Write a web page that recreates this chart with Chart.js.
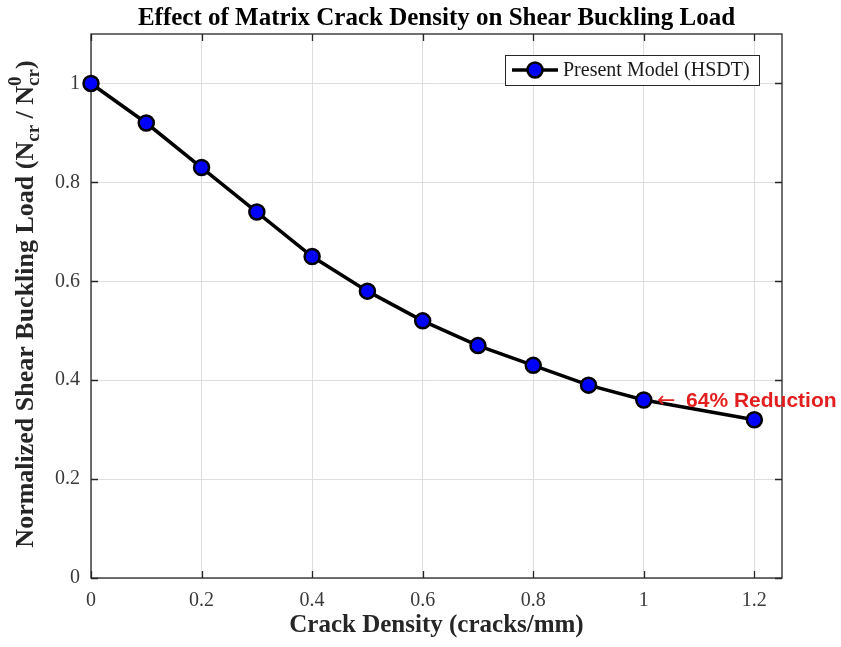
<!DOCTYPE html>
<html>
<head>
<meta charset="utf-8">
<script src="https://cdn.jsdelivr.net/npm/chart.js@4"></script>
<style>
html,body{margin:0;padding:0;background:#fff;}
#wrap{width:841px;height:647px;}
</style>
</head>
<body>
<div id="wrap"><canvas id="c" width="841" height="647"></canvas></div>
<script>
const crackDensity = [0, 0.1, 0.2, 0.3, 0.4, 0.5, 0.6, 0.7, 0.8, 0.9, 1.0, 1.2];
const normalizedLoad = [1.00, 0.92, 0.83, 0.74, 0.65, 0.58, 0.52, 0.47, 0.43, 0.39, 0.36, 0.32];
const xTicks = [0, 0.2, 0.4, 0.6, 0.8, 1, 1.2];
const xTickLabels = ['0', '0.2', '0.4', '0.6', '0.8', '1', '1.2'];
const yTicks = [0, 0.2, 0.4, 0.6, 0.8, 1];
const yTickLabels = ['0', '0.2', '0.4', '0.6', '0.8', '1'];
const seriesName = 'Present Model (HSDT)';
const chartTitle = 'Effect of Matrix Crack Density on Shear Buckling Load';
const xTitle = 'Crack Density (cracks/mm)';
const annotArrow = '\u2190';
const annotText = '64% Reduction';
const annotX = 1.024;
const annotY = 0.36;

const SERIF = '"Liberation Serif", "Times New Roman", serif';
const AXC = '#262626';

const decorPlugin = {
  id: 'decor',
  beforeDatasetsDraw(chart) {
    const ctx = chart.ctx, a = chart.chartArea;
    const xs = chart.scales.x, ys = chart.scales.y;
    ctx.save();
    ctx.strokeStyle = AXC;
    ctx.lineWidth = 1.3;
    ctx.strokeRect(a.left, a.top, a.right - a.left, a.bottom - a.top);
    const tl = 7;
    ctx.beginPath();
    xTicks.forEach(v => {
      const px = Math.round(xs.getPixelForValue(v)) + 0.5;
      ctx.moveTo(px, a.bottom); ctx.lineTo(px, a.bottom - tl);
      ctx.moveTo(px, a.top); ctx.lineTo(px, a.top + tl);
    });
    yTicks.forEach(v => {
      const py = Math.round(ys.getPixelForValue(v)) + 0.5;
      ctx.moveTo(a.left, py); ctx.lineTo(a.left + tl, py);
      ctx.moveTo(a.right, py); ctx.lineTo(a.right - tl, py);
    });
    ctx.stroke();
    ctx.restore();
  },
  afterDraw(chart) {
    const ctx = chart.ctx, a = chart.chartArea;
    const xs = chart.scales.x, ys = chart.scales.y;
    const cx = (a.left + a.right) / 2;
    ctx.save();
    // main title
    ctx.fillStyle = '#000';
    ctx.font = 'bold 25px ' + SERIF;
    ctx.textAlign = 'center';
    ctx.textBaseline = 'alphabetic';
    ctx.fillText(chartTitle, cx, 25);
    // x title
    ctx.fillStyle = AXC;
    ctx.font = 'bold 25px ' + SERIF;
    ctx.fillText(xTitle, cx, 632);
    // y title with sub/superscripts
    const big = 'bold 26px ' + SERIF, small = 'bold 19px ' + SERIF;
    const parts = [
      {t: 'Normalized Shear Buckling Load (N', f: big, dy: 0},
      {t: 'cr', f: small, dy: 6},
      {t: ' / N', f: big, dy: 0},
      {t: '0', sub: 'cr', f: small, dy: -12, dy2: 6},
      {t: ')', f: big, dy: 0}
    ];
    let total = 0;
    parts.forEach(p => {
      ctx.font = p.f;
      let w = ctx.measureText(p.t).width;
      if (p.sub) w = Math.max(w, ctx.measureText(p.sub).width);
      p.w = w; total += w;
    });
    ctx.translate(33, (a.top + a.bottom) / 2 - 2);
    ctx.rotate(-Math.PI / 2);
    ctx.textAlign = 'left';
    let x = -total / 2;
    parts.forEach(p => {
      ctx.font = p.f;
      ctx.fillText(p.t, x, p.dy);
      if (p.sub) ctx.fillText(p.sub, x, p.dy2);
      x += p.w;
    });
    ctx.restore();

    // legend
    ctx.save();
    const lx = 505, ly = 55, lw = 254, lh = 30;
    ctx.fillStyle = '#fff';
    ctx.fillRect(lx, ly, lw, lh);
    ctx.strokeStyle = AXC;
    ctx.lineWidth = 1;
    ctx.strokeRect(lx + 0.5, ly + 0.5, lw, lh);
    const my = ly + lh / 2;
    ctx.strokeStyle = '#000';
    ctx.lineWidth = 3.5;
    ctx.beginPath(); ctx.moveTo(512, my); ctx.lineTo(558, my); ctx.stroke();
    ctx.beginPath(); ctx.arc(535, my, 7.5, 0, Math.PI * 2);
    ctx.fillStyle = '#0000ff'; ctx.fill();
    ctx.lineWidth = 2.5; ctx.stroke();
    ctx.fillStyle = '#1a1a1a';
    ctx.font = '20px ' + SERIF;
    ctx.textAlign = 'left';
    ctx.textBaseline = 'middle';
    ctx.fillText(seriesName, 563, my + 1);
    // annotation
    const ax = xs.getPixelForValue(annotX), ay = ys.getPixelForValue(annotY) + 1;
    ctx.fillStyle = '#e31e1e';
    ctx.textBaseline = 'middle';
    ctx.font = '22px "DejaVu Sans", sans-serif';
    ctx.fillText(annotArrow, ax, ay);
    ctx.font = 'bold 21px "Liberation Sans", Arial, sans-serif';
    ctx.fillText(annotText, ax + 29, ay);
    ctx.restore();
  }
};

new Chart(document.getElementById('c'), {
  type: 'line',
  data: {
    datasets: [{
      label: seriesName,
      data: crackDensity.map((v, i) => ({x: v, y: normalizedLoad[i]})),
      borderColor: '#000',
      borderWidth: 3.5,
      pointRadius: 7.5,
      pointHoverRadius: 7.5,
      pointBackgroundColor: '#0000ff',
      pointBorderColor: '#000',
      pointBorderWidth: 2.5,
      tension: 0,
      clip: false
    }]
  },
  options: {
    responsive: false,
    devicePixelRatio: 1,
    animation: false,
    layout: {padding: {left: 0, top: 34, right: 59, bottom: 0}},
    plugins: {legend: {display: false}, title: {display: false}, tooltip: {enabled: false}},
    events: [],
    scales: {
      x: {
        type: 'linear', min: 0, max: 1.25,
        afterBuildTicks: s => { s.ticks = xTicks.map(v => ({value: v})); },
        afterFit: s => { s.height = 69; },
        grid: {color: '#dedede', lineWidth: 1, drawTicks: false, tickLength: 0},
        border: {display: false},
        ticks: {
          padding: 11, color: '#3a3a3a', font: {family: SERIF, size: 20},
          maxRotation: 0, autoSkip: false,
          callback: (v, i) => xTickLabels[i]
        }
      },
      y: {
        type: 'linear', min: 0, max: 1.1,
        afterBuildTicks: s => { s.ticks = yTicks.map(v => ({value: v})); },
        afterFit: s => { s.width = 91; },
        grid: {color: '#dedede', lineWidth: 1, drawTicks: false, tickLength: 0},
        border: {display: false},
        ticks: {
          padding: 11, color: '#3a3a3a', font: {family: SERIF, size: 20},
          autoSkip: false,
          callback: (v, i) => yTickLabels[i]
        }
      }
    }
  },
  plugins: [decorPlugin]
});
</script>
</body>
</html>
